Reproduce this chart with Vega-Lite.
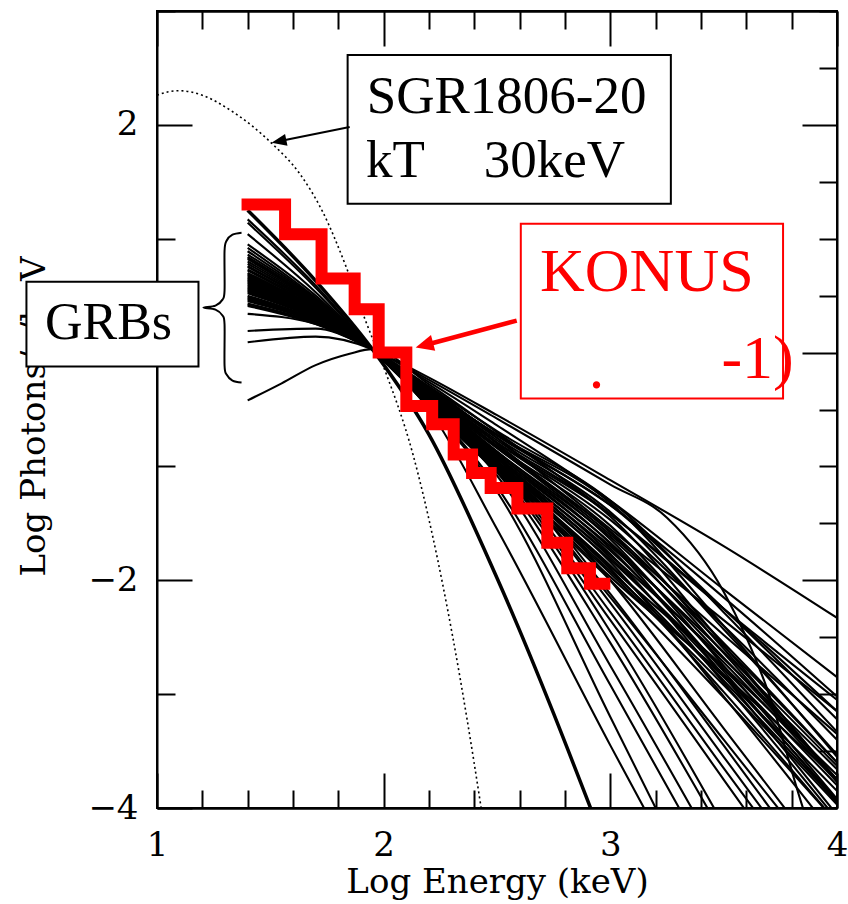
{
"$schema": "https://vega.github.io/schema/vega-lite/v6.json",
"width": 680, "height": 797,
"autosize": "none",
"padding": {"left": 157, "top": 11, "right": 11, "bottom": 96},
"background": "white",
"config": {"view": {"stroke": "black", "strokeWidth": 2}},
"datasets": {
"grb": [
{"c":"A1","x":1.4,"y":0.34},{"c":"A1","x":1.7,"y":0.25},{"c":"A1","x":1.95,"y":0.03},{"c":"A1","x":2.2,"y":-0.22},{"c":"A1","x":2.5,"y":-0.55},{"c":"A1","x":3.0,"y":-1.12},{"c":"A1","x":3.5,"y":-1.70},{"c":"A1","x":4.0,"y":-2.33},
{"c":"A2","x":1.4,"y":0.19},{"c":"A2","x":1.7,"y":0.21},{"c":"A2","x":1.95,"y":0.03},{"c":"A2","x":2.2,"y":-0.24},{"c":"A2","x":2.5,"y":-0.58},{"c":"A2","x":3.0,"y":-1.16},{"c":"A2","x":3.25,"y":-1.45},{"c":"A2","x":3.5,"y":-2.10},{"c":"A2","x":3.7,"y":-3.0},{"c":"A2","x":3.85,"y":-4.0},{"c":"A2","x":4.0,"y":-4.8},
{"c":"A3","x":1.4,"y":0.09},{"c":"A3","x":1.7,"y":0.14},{"c":"A3","x":1.95,"y":0.03},{"c":"A3","x":2.2,"y":-0.26},{"c":"A3","x":2.5,"y":-0.64},{"c":"A3","x":3.0,"y":-1.30},{"c":"A3","x":3.5,"y":-2.08},{"c":"A3","x":4.0,"y":-2.85},
{"c":"A4","x":1.4,"y":-0.42},{"c":"A4","x":1.55,"y":-0.27},{"c":"A4","x":1.7,"y":-0.11},{"c":"A4","x":1.85,"y":-0.01},{"c":"A4","x":1.95,"y":0.03},{"c":"A4","x":2.2,"y":-0.28},{"c":"A4","x":2.5,"y":-0.70},{"c":"A4","x":3.0,"y":-1.42},{"c":"A4","x":3.5,"y":-2.25},{"c":"A4","x":4.0,"y":-3.05},
{"c":"A5","x":1.4,"y":0.41},{"c":"A5","x":1.7,"y":0.25},{"c":"A5","x":1.95,"y":0.03},{"c":"A5","x":2.2,"y":-0.30},{"c":"A5","x":2.5,"y":-0.75},{"c":"A5","x":3.0,"y":-1.55},{"c":"A5","x":3.5,"y":-2.35},{"c":"A5","x":4.0,"y":-3.15},
{"c":"A6","x":1.4,"y":0.45},{"c":"A6","x":1.7,"y":0.27},{"c":"A6","x":1.95,"y":0.03},{"c":"A6","x":2.2,"y":-0.32},{"c":"A6","x":2.5,"y":-0.80},{"c":"A6","x":3.0,"y":-1.60},{"c":"A6","x":3.5,"y":-2.48},{"c":"A6","x":4.0,"y":-3.35},
{"c":"B1","x":1.4,"y":0.83},{"c":"B1","x":1.7,"y":0.44},{"c":"B1","x":1.95,"y":0.03},{"c":"B1","x":2.2,"y":-0.31},{"c":"B1","x":2.5,"y":-0.73},{"c":"B1","x":3.0,"y":-1.34},{"c":"B1","x":3.5,"y":-2.25},{"c":"B1","x":4.0,"y":-3.22},
{"c":"B2","x":1.4,"y":0.80},{"c":"B2","x":1.7,"y":0.43},{"c":"B2","x":1.95,"y":0.03},{"c":"B2","x":2.2,"y":-0.33},{"c":"B2","x":2.5,"y":-0.75},{"c":"B2","x":3.0,"y":-1.40},{"c":"B2","x":3.5,"y":-2.43},{"c":"B2","x":4.0,"y":-3.53},
{"c":"B3","x":1.4,"y":0.78},{"c":"B3","x":1.7,"y":0.42},{"c":"B3","x":1.95,"y":0.03},{"c":"B3","x":2.2,"y":-0.35},{"c":"B3","x":2.5,"y":-0.79},{"c":"B3","x":3.0,"y":-1.47},{"c":"B3","x":3.5,"y":-2.40},{"c":"B3","x":4.0,"y":-3.40},
{"c":"B4","x":1.4,"y":0.76},{"c":"B4","x":1.7,"y":0.41},{"c":"B4","x":1.95,"y":0.03},{"c":"B4","x":2.2,"y":-0.37},{"c":"B4","x":2.5,"y":-0.82},{"c":"B4","x":3.0,"y":-1.52},{"c":"B4","x":3.5,"y":-2.60},{"c":"B4","x":4.0,"y":-3.75},
{"c":"B5","x":1.4,"y":0.75},{"c":"B5","x":1.7,"y":0.41},{"c":"B5","x":1.95,"y":0.03},{"c":"B5","x":2.2,"y":-0.34},{"c":"B5","x":2.5,"y":-0.77},{"c":"B5","x":3.0,"y":-1.44},{"c":"B5","x":3.5,"y":-2.57},{"c":"B5","x":4.0,"y":-3.77},
{"c":"B6","x":1.4,"y":0.73},{"c":"B6","x":1.7,"y":0.40},{"c":"B6","x":1.95,"y":0.03},{"c":"B6","x":2.2,"y":-0.38},{"c":"B6","x":2.5,"y":-0.84},{"c":"B6","x":3.0,"y":-1.57},{"c":"B6","x":3.5,"y":-2.55},{"c":"B6","x":4.0,"y":-3.60},
{"c":"B7","x":1.4,"y":0.72},{"c":"B7","x":1.7,"y":0.39},{"c":"B7","x":1.95,"y":0.03},{"c":"B7","x":2.2,"y":-0.36},{"c":"B7","x":2.5,"y":-0.82},{"c":"B7","x":3.0,"y":-1.58},{"c":"B7","x":3.5,"y":-2.64},{"c":"B7","x":4.0,"y":-3.76},
{"c":"B8","x":1.4,"y":0.70},{"c":"B8","x":1.7,"y":0.38},{"c":"B8","x":1.95,"y":0.03},{"c":"B8","x":2.2,"y":-0.39},{"c":"B8","x":2.5,"y":-0.87},{"c":"B8","x":3.0,"y":-1.62},{"c":"B8","x":3.5,"y":-2.58},{"c":"B8","x":4.0,"y":-3.60},
{"c":"B9","x":1.4,"y":0.69},{"c":"B9","x":1.7,"y":0.38},{"c":"B9","x":1.95,"y":0.03},{"c":"B9","x":2.2,"y":-0.35},{"c":"B9","x":2.5,"y":-0.83},{"c":"B9","x":3.0,"y":-1.64},{"c":"B9","x":3.5,"y":-2.75},{"c":"B9","x":4.0,"y":-3.92},
{"c":"B10","x":1.4,"y":0.68},{"c":"B10","x":1.7,"y":0.38},{"c":"B10","x":1.95,"y":0.03},{"c":"B10","x":2.2,"y":-0.40},{"c":"B10","x":2.5,"y":-0.89},{"c":"B10","x":3.0,"y":-1.67},{"c":"B10","x":3.5,"y":-2.68},{"c":"B10","x":4.0,"y":-3.75},
{"c":"B11","x":1.4,"y":0.66},{"c":"B11","x":1.7,"y":0.37},{"c":"B11","x":1.95,"y":0.03},{"c":"B11","x":2.2,"y":-0.38},{"c":"B11","x":2.5,"y":-0.87},{"c":"B11","x":3.0,"y":-1.68},{"c":"B11","x":3.5,"y":-2.84},{"c":"B11","x":4.0,"y":-4.06},
{"c":"B12","x":1.4,"y":0.65},{"c":"B12","x":1.7,"y":0.36},{"c":"B12","x":1.95,"y":0.03},{"c":"B12","x":2.2,"y":-0.41},{"c":"B12","x":2.5,"y":-0.91},{"c":"B12","x":3.0,"y":-1.70},{"c":"B12","x":3.5,"y":-2.63},{"c":"B12","x":4.0,"y":-3.63},
{"c":"B13","x":1.4,"y":0.64},{"c":"B13","x":1.7,"y":0.36},{"c":"B13","x":1.95,"y":0.03},{"c":"B13","x":2.2,"y":-0.39},{"c":"B13","x":2.5,"y":-0.89},{"c":"B13","x":3.0,"y":-1.72},{"c":"B13","x":3.5,"y":-2.80},{"c":"B13","x":4.0,"y":-3.95},
{"c":"B14","x":1.4,"y":0.62},{"c":"B14","x":1.7,"y":0.35},{"c":"B14","x":1.95,"y":0.03},{"c":"B14","x":2.2,"y":-0.42},{"c":"B14","x":2.5,"y":-0.93},{"c":"B14","x":3.0,"y":-1.74},{"c":"B14","x":3.5,"y":-2.72},{"c":"B14","x":4.0,"y":-3.77},
{"c":"B15","x":1.4,"y":0.61},{"c":"B15","x":1.7,"y":0.34},{"c":"B15","x":1.95,"y":0.03},{"c":"B15","x":2.2,"y":-0.40},{"c":"B15","x":2.5,"y":-0.92},{"c":"B15","x":3.0,"y":-1.77},{"c":"B15","x":3.5,"y":-2.90},{"c":"B15","x":4.0,"y":-4.10},
{"c":"B16","x":1.4,"y":0.60},{"c":"B16","x":1.7,"y":0.34},{"c":"B16","x":1.95,"y":0.03},{"c":"B16","x":2.2,"y":-0.43},{"c":"B16","x":2.5,"y":-0.95},{"c":"B16","x":3.0,"y":-1.78},{"c":"B16","x":3.5,"y":-2.69},{"c":"B16","x":4.0,"y":-3.66},
{"c":"B17","x":1.4,"y":0.58},{"c":"B17","x":1.7,"y":0.33},{"c":"B17","x":1.95,"y":0.03},{"c":"B17","x":2.2,"y":-0.41},{"c":"B17","x":2.5,"y":-0.93},{"c":"B17","x":3.0,"y":-1.80},{"c":"B17","x":3.5,"y":-2.83},{"c":"B17","x":4.0,"y":-3.93},
{"c":"B18","x":1.4,"y":0.57},{"c":"B18","x":1.7,"y":0.33},{"c":"B18","x":1.95,"y":0.03},{"c":"B18","x":2.2,"y":-0.44},{"c":"B18","x":2.5,"y":-0.97},{"c":"B18","x":3.0,"y":-1.82},{"c":"B18","x":3.5,"y":-2.78},{"c":"B18","x":4.0,"y":-3.80},
{"c":"B19","x":1.4,"y":0.56},{"c":"B19","x":1.7,"y":0.32},{"c":"B19","x":1.95,"y":0.03},{"c":"B19","x":2.2,"y":-0.42},{"c":"B19","x":2.5,"y":-0.96},{"c":"B19","x":3.0,"y":-1.84},{"c":"B19","x":3.5,"y":-3.02},{"c":"B19","x":4.0,"y":-4.27},
{"c":"B20","x":1.4,"y":0.54},{"c":"B20","x":1.7,"y":0.31},{"c":"B20","x":1.95,"y":0.03},{"c":"B20","x":2.2,"y":-0.45},{"c":"B20","x":2.5,"y":-0.99},{"c":"B20","x":3.0,"y":-1.87},{"c":"B20","x":3.5,"y":-2.88},{"c":"B20","x":4.0,"y":-3.95},
{"c":"B21","x":1.4,"y":0.53},{"c":"B21","x":1.7,"y":0.31},{"c":"B21","x":1.95,"y":0.03},{"c":"B21","x":2.2,"y":-0.43},{"c":"B21","x":2.5,"y":-0.97},{"c":"B21","x":3.0,"y":-1.88},{"c":"B21","x":3.5,"y":-2.76},{"c":"B21","x":4.0,"y":-3.71},
{"c":"B22","x":1.4,"y":0.52},{"c":"B22","x":1.7,"y":0.30},{"c":"B22","x":1.95,"y":0.03},{"c":"B22","x":2.2,"y":-0.46},{"c":"B22","x":2.5,"y":-1.01},{"c":"B22","x":3.0,"y":-1.90},{"c":"B22","x":3.5,"y":-2.98},{"c":"B22","x":4.0,"y":-4.13},
{"c":"B23","x":1.4,"y":0.50},{"c":"B23","x":1.7,"y":0.29},{"c":"B23","x":1.95,"y":0.03},{"c":"B23","x":2.2,"y":-0.44},{"c":"B23","x":2.5,"y":-0.99},{"c":"B23","x":3.0,"y":-1.92},{"c":"B23","x":3.5,"y":-2.85},{"c":"B23","x":4.0,"y":-3.85},
{"c":"B24","x":1.4,"y":0.49},{"c":"B24","x":1.7,"y":0.29},{"c":"B24","x":1.95,"y":0.03},{"c":"B24","x":2.2,"y":-0.47},{"c":"B24","x":2.5,"y":-1.03},{"c":"B24","x":3.0,"y":-1.94},{"c":"B24","x":3.5,"y":-2.92},{"c":"B24","x":4.0,"y":-3.97},
{"c":"B25","x":1.4,"y":0.48},{"c":"B25","x":1.7,"y":0.28},{"c":"B25","x":1.95,"y":0.03},{"c":"B25","x":2.2,"y":-0.45},{"c":"B25","x":2.5,"y":-1.01},{"c":"B25","x":3.0,"y":-1.97},{"c":"B25","x":3.5,"y":-2.83},{"c":"B25","x":4.0,"y":-3.75},
{"c":"B26","x":1.4,"y":0.46},{"c":"B26","x":1.7,"y":0.28},{"c":"B26","x":1.95,"y":0.03},{"c":"B26","x":2.2,"y":-0.48},{"c":"B26","x":2.5,"y":-1.05},{"c":"B26","x":3.0,"y":-2.00},{"c":"B26","x":3.5,"y":-3.03},{"c":"B26","x":4.0,"y":-4.13},
{"c":"B27","x":1.4,"y":0.86},{"c":"B27","x":1.7,"y":0.46},{"c":"B27","x":1.95,"y":0.03},{"c":"B27","x":2.2,"y":-0.32},{"c":"B27","x":2.5,"y":-0.72},{"c":"B27","x":3.0,"y":-1.32},{"c":"B27","x":3.5,"y":-2.40},{"c":"B27","x":4.0,"y":-3.55},
{"c":"B28","x":1.4,"y":0.89},{"c":"B28","x":1.7,"y":0.47},{"c":"B28","x":1.95,"y":0.03},{"c":"B28","x":2.2,"y":-0.30},{"c":"B28","x":2.5,"y":-0.69},{"c":"B28","x":3.0,"y":-1.30},{"c":"B28","x":3.5,"y":-2.28},{"c":"B28","x":4.0,"y":-3.33},
{"c":"B29","x":1.4,"y":0.43},{"c":"B29","x":1.7,"y":0.26},{"c":"B29","x":1.95,"y":0.03},{"c":"B29","x":2.2,"y":-0.37},{"c":"B29","x":2.5,"y":-0.79},{"c":"B29","x":3.0,"y":-1.42},{"c":"B29","x":3.5,"y":-2.25},{"c":"B29","x":4.0,"y":-3.15},
{"c":"B30","x":1.4,"y":0.42},{"c":"B30","x":1.7,"y":0.26},{"c":"B30","x":1.95,"y":0.03},{"c":"B30","x":2.2,"y":-0.33},{"c":"B30","x":2.5,"y":-0.72},{"c":"B30","x":3.0,"y":-1.34},{"c":"B30","x":3.5,"y":-2.15},{"c":"B30","x":4.0,"y":-3.02},
{"c":"C1","x":1.4,"y":1.25},{"c":"C1","x":1.7,"y":0.63},{"c":"C1","x":1.95,"y":0.03},{"c":"C1","x":2.2,"y":-0.72},{"c":"C1","x":2.5,"y":-1.98},{"c":"C1","x":3.0,"y":-4.45},
{"c":"C2","x":1.4,"y":1.17},{"c":"C2","x":1.7,"y":0.59},{"c":"C2","x":1.95,"y":0.03},{"c":"C2","x":2.2,"y":-0.50},{"c":"C2","x":2.5,"y":-1.55},{"c":"C2","x":3.0,"y":-3.45},{"c":"C2","x":3.5,"y":-5.3},
{"c":"C3","x":1.4,"y":1.14},{"c":"C3","x":1.7,"y":0.57},{"c":"C3","x":1.95,"y":0.03},{"c":"C3","x":2.2,"y":-0.48},{"c":"C3","x":2.5,"y":-1.22},{"c":"C3","x":3.0,"y":-3.20},{"c":"C3","x":3.5,"y":-5.2},
{"c":"C4","x":1.4,"y":1.04},{"c":"C4","x":1.7,"y":0.53},{"c":"C4","x":1.95,"y":0.03},{"c":"C4","x":2.2,"y":-0.46},{"c":"C4","x":2.5,"y":-1.18},{"c":"C4","x":3.0,"y":-2.92},{"c":"C4","x":3.5,"y":-4.7},
{"c":"C5","x":1.4,"y":0.95},{"c":"C5","x":1.7,"y":0.50},{"c":"C5","x":1.95,"y":0.03},{"c":"C5","x":2.2,"y":-0.45},{"c":"C5","x":2.5,"y":-1.08},{"c":"C5","x":3.0,"y":-2.75},{"c":"C5","x":3.5,"y":-4.5},
{"c":"C6","x":1.4,"y":0.92},{"c":"C6","x":1.7,"y":0.48},{"c":"C6","x":1.95,"y":0.03},{"c":"C6","x":2.2,"y":-0.44},{"c":"C6","x":2.5,"y":-1.05},{"c":"C6","x":3.0,"y":-2.55},{"c":"C6","x":3.5,"y":-4.25},
{"c":"C7","x":1.4,"y":0.84},{"c":"C7","x":1.7,"y":0.45},{"c":"C7","x":1.95,"y":0.03},{"c":"C7","x":2.2,"y":-0.43},{"c":"C7","x":2.5,"y":-1.02},{"c":"C7","x":3.0,"y":-2.45},{"c":"C7","x":3.5,"y":-4.15},
{"c":"C8","x":1.4,"y":0.82},{"c":"C8","x":1.7,"y":0.44},{"c":"C8","x":1.95,"y":0.03},{"c":"C8","x":2.2,"y":-0.44},{"c":"C8","x":2.5,"y":-1.00},{"c":"C8","x":3.0,"y":-2.35},{"c":"C8","x":3.5,"y":-3.75},{"c":"C8","x":4.0,"y":-5.15},
{"c":"C9","x":1.4,"y":0.63},{"c":"C9","x":1.7,"y":0.35},{"c":"C9","x":1.95,"y":0.03},{"c":"C9","x":2.2,"y":-0.42},{"c":"C9","x":2.5,"y":-0.98},{"c":"C9","x":3.0,"y":-2.28},{"c":"C9","x":3.5,"y":-3.65},{"c":"C9","x":4.0,"y":-5.0},
{"c":"C10","x":1.4,"y":0.55},{"c":"C10","x":1.7,"y":0.32},{"c":"C10","x":1.95,"y":0.03},{"c":"C10","x":2.2,"y":-0.40},{"c":"C10","x":2.5,"y":-0.95},{"c":"C10","x":3.0,"y":-2.20},{"c":"C10","x":3.5,"y":-3.55},{"c":"C10","x":4.0,"y":-4.9},
{"c":"C11","x":1.4,"y":0.47},{"c":"C11","x":1.7,"y":0.28},{"c":"C11","x":1.95,"y":0.03},{"c":"C11","x":2.2,"y":-0.38},{"c":"C11","x":2.5,"y":-0.92},{"c":"C11","x":3.0,"y":-2.12},{"c":"C11","x":3.5,"y":-3.45},{"c":"C11","x":4.0,"y":-4.8},
{"c":"C12","x":1.4,"y":0.67},{"c":"C12","x":1.7,"y":0.37},{"c":"C12","x":1.95,"y":0.03},{"c":"C12","x":2.2,"y":-0.41},{"c":"C12","x":2.5,"y":-0.96},{"c":"C12","x":3.0,"y":-2.15},{"c":"C12","x":3.5,"y":-3.40},{"c":"C12","x":4.0,"y":-4.65},
{"c":"C13","x":1.4,"y":0.59},{"c":"C13","x":1.7,"y":0.33},{"c":"C13","x":1.95,"y":0.03},{"c":"C13","x":2.2,"y":-0.39},{"c":"C13","x":2.5,"y":-0.90},{"c":"C13","x":3.0,"y":-2.00},{"c":"C13","x":3.5,"y":-3.30},{"c":"C13","x":4.0,"y":-4.60}
],
"sgr": [
{"x":1.0,"y":2.26},{"x":1.05,"y":2.29},{"x":1.1,"y":2.30},{"x":1.2,"y":2.26},{"x":1.33,"y":2.12},{"x":1.42,"y":1.99},{"x":1.505,"y":1.84},{"x":1.63,"y":1.57},{"x":1.73,"y":1.24},{"x":1.835,"y":0.75},{"x":1.92,"y":0.28},{"x":1.995,"y":-0.1},{"x":2.13,"y":-0.9},{"x":2.217,"y":-1.62},{"x":2.305,"y":-2.5},{"x":2.43,"y":-4.0},{"x":2.46,"y":-4.4}
],
"konus": [
{"x":1.373,"y":1.30},{"x":1.565,"y":1.04},{"x":1.726,"y":0.65},{"x":1.872,"y":0.38},{"x":1.978,"y":0.0},{"x":2.10,"y":-0.47},{"x":2.214,"y":-0.63},{"x":2.309,"y":-0.895},{"x":2.39,"y":-1.057},{"x":2.472,"y":-1.19},{"x":2.59,"y":-1.37},{"x":2.722,"y":-1.67},{"x":2.81,"y":-1.895},{"x":2.91,"y":-2.03},{"x":3.0,"y":-2.03}
],
"brace": [
{"k":1,"x":1.373,"y":1.053},{"k":2,"x":1.333,"y":1.035},{"k":3,"x":1.307,"y":0.982},{"k":4,"x":1.298,"y":0.895},{"k":5,"x":1.298,"y":0.544},{"k":6,"x":1.289,"y":0.465},{"k":7,"x":1.258,"y":0.412},{"k":8,"x":1.205,"y":0.395},{"k":9,"x":1.258,"y":0.377},{"k":10,"x":1.289,"y":0.325},{"k":11,"x":1.298,"y":0.246},{"k":12,"x":1.298,"y":-0.114},{"k":13,"x":1.307,"y":-0.193},{"k":14,"x":1.333,"y":-0.246},{"k":15,"x":1.373,"y":-0.263}
]
},
"encoding": {
"x": {"field": "x", "type": "quantitative", "scale": {"domain": [1, 4], "nice": false, "zero": false}, "axis": null},
"y": {"field": "y", "type": "quantitative", "scale": {"domain": [-4, 3], "nice": false, "zero": false}, "axis": null}
},
"layer": [
{
"data": {"name": "grb"},
"transform": [{"filter": "datum.c !== 'C1'"}],
"mark": {"type": "line", "interpolate": "monotone", "color": "black", "strokeWidth": 2.1, "clip": true},
"encoding": {
"x": {"field": "x", "type": "quantitative", "scale": {"domain": [1, 4], "nice": false, "zero": false},
"axis": {"orient": "bottom", "values": [1, 2, 3, 4], "format": "d", "tickSize": -35,
"tickWidth": 2, "tickColor": "black", "domainWidth": 2, "domainColor": "black", "grid": false,
"labelFont": "DejaVu Serif", "labelFontSize": 34, "labelColor": "black", "labelBaseline": "alphabetic", "labelPadding": 82, "labelFlush": false, "labelOverlap": false, "labelBound": false,
"title": "Log Energy (keV)", "titleFont": "DejaVu Serif", "titleFontSize": 34, "titleFontWeight": "normal", "titleColor": "black", "titleBaseline": "alphabetic", "titleY": 84, "titleX": 340, "titleAlign": "center"}},
"y": {"field": "y", "type": "quantitative", "scale": {"domain": [-4, 3], "nice": false, "zero": false},
"axis": {"orient": "left", "values": [-4,-3.5,-3,-2.5,-2,-1.5,-1,-0.5,0,0.5,1,1.5,2,2.5,3], "format": "d",
"labelExpr": "datum.value % 2 === 0 ? datum.label : ''",
"tickSize": {"condition": {"test": "datum.value % 2 === 0", "value": -35}, "value": -18},
"tickWidth": 2, "tickColor": "black", "domainWidth": 2, "domainColor": "black", "grid": false,
"labelFont": "DejaVu Serif", "labelFontSize": 34, "labelColor": "black", "labelBaseline": "middle", "labelPadding": 54, "labelFlush": false, "labelOverlap": false, "labelBound": false,
"title": "Log Photons/s/keV", "titleFont": "DejaVu Serif", "titleFontSize": 34, "titleFontWeight": "normal", "titleColor": "black", "titleBaseline": "alphabetic", "titleAlign": "center", "titleAngle": -90, "titleX": -113, "titleY": 405}},
"detail": {"field": "c", "type": "nominal"}
}
},
{
"data": {"name": "grb"},
"transform": [{"filter": "datum.c === 'C1'"}],
"mark": {"type": "line", "interpolate": "monotone", "color": "black", "strokeWidth": 3.5, "clip": true},
"encoding": {
"x": {"field": "x", "type": "quantitative", "scale": {"domain": [1, 4], "nice": false, "zero": false},
"axis": {"orient": "bottom", "values": [1.2,1.4,1.6,1.8,2.2,2.4,2.6,2.8,3.2,3.4,3.6,3.8], "labels": false, "title": null, "tickSize": -18,
"tickWidth": 2, "tickColor": "black", "domainWidth": 2, "domainColor": "black", "grid": false}},
"detail": {"field": "c", "type": "nominal"}
}
},
{
"data": {"name": "sgr"},
"mark": {"type": "line", "interpolate": "monotone", "color": "black", "strokeWidth": 1.6, "strokeDash": [2, 3], "clip": true},
"encoding": {
"x": {"field": "x", "type": "quantitative", "scale": {"domain": [1, 4], "nice": false, "zero": false},
"axis": {"orient": "top", "values": [1, 2, 3, 4], "labels": false, "title": null, "tickSize": -35,
"tickWidth": 2, "tickColor": "black", "domainWidth": 2, "domainColor": "black", "grid": false}},
"y": {"field": "y", "type": "quantitative", "scale": {"domain": [-4, 3], "nice": false, "zero": false},
"axis": {"orient": "right", "values": [-4,-3.5,-3,-2.5,-2,-1.5,-1,-0.5,0,0.5,1,1.5,2,2.5,3], "labels": false, "title": null,
"tickSize": {"condition": {"test": "datum.value % 2 === 0", "value": -35}, "value": -18},
"tickWidth": 2, "tickColor": "black", "domainWidth": 2, "domainColor": "black", "grid": false}}
}
},
{
"data": {"name": "konus"},
"mark": {"type": "line", "interpolate": "step-after", "color": "#ff0000", "strokeWidth": 12, "strokeCap": "butt", "strokeJoin": "miter"},
"encoding": {
"x": {"field": "x", "type": "quantitative", "scale": {"domain": [1, 4], "nice": false, "zero": false},
"axis": {"orient": "top", "values": [1.2,1.4,1.6,1.8,2.2,2.4,2.6,2.8,3.2,3.4,3.6,3.8], "labels": false, "title": null, "tickSize": -18,
"tickWidth": 2, "tickColor": "black", "domainWidth": 2, "domainColor": "black", "grid": false}}
}
},
{
"data": {"name": "brace"},
"mark": {"type": "line", "interpolate": "cardinal", "color": "black", "strokeWidth": 2},
"encoding": {"order": {"field": "k", "type": "quantitative"}}
},
{
"data": {"values": [{"x": 1.841, "x2": 3.267, "y": 1.307, "y2": 2.614}, {"x": 0.424, "x2": 1.183, "y": -0.123, "y2": 0.623}]},
"mark": {"type": "rect", "fill": "white", "stroke": "black", "strokeWidth": 2},
"encoding": {"x2": {"field": "x2"}, "y2": {"field": "y2"}}
},
{
"data": {"values": [{"x": 2.605, "x2": 3.762, "y": -0.404, "y2": 1.132}]},
"mark": {"type": "rect", "fill": "white", "stroke": "#ff0000", "strokeWidth": 2},
"encoding": {"x2": {"field": "x2"}, "y2": {"field": "y2"}}
},
{
"data": {"values": [{"x": 1.85, "y": 1.982, "x2": 1.5488, "y2": 1.860}]},
"mark": {"type": "rule", "color": "black", "strokeWidth": 2},
"encoding": {"x2": {"field": "x2"}, "y2": {"field": "y2"}}
},
{
"data": {"values": [{"x": 1.5055, "y": 1.842}]},
"mark": {"type": "point", "filled": true, "color": "black", "opacity": 1, "shape": "M0,0L1,-0.4L1,0.4Z", "size": 900, "angle": -11.6},
"encoding": {}
},
{
"data": {"values": [{"x": 2.587, "y": 0.281, "x2": 2.1925, "y2": 0.071}]},
"mark": {"type": "rule", "color": "#ff0000", "strokeWidth": 4.5},
"encoding": {"x2": {"field": "x2"}, "y2": {"field": "y2"}}
},
{
"data": {"values": [{"x": 2.1413, "y": 0.0439}]},
"mark": {"type": "point", "filled": true, "color": "#ff0000", "opacity": 1, "shape": "M0,0L1,-0.45L1,0.45Z", "size": 1296, "angle": -15},
"encoding": {}
},
{
"data": {"values": [{"x": 1.925, "y": 2.105, "label": "SGR1806-20"}, {"x": 1.922, "y": 1.544, "label": "kT"}, {"x": 2.441, "y": 1.544, "label": "30keV"}]},
"mark": {"type": "text", "font": "Liberation Serif", "fontSize": 53, "color": "black", "align": "left", "baseline": "alphabetic"},
"encoding": {"text": {"field": "label"}}
},
{
"data": {"values": [{"x": 0.5055, "y": 0.123, "label": "GRBs"}]},
"mark": {"type": "text", "font": "Liberation Serif", "fontSize": 52, "color": "black", "align": "left", "baseline": "alphabetic"},
"encoding": {"text": {"field": "label"}}
},
{
"data": {"values": [{"x": 2.69, "y": 0.544, "label": "KONUS"}, {"x": 2.905, "y": -0.307, "label": "."}, {"x": 3.49, "y": -0.219, "label": "-1)"}]},
"mark": {"type": "text", "font": "Liberation Serif", "fontSize": 62, "color": "#ff0000", "align": "left", "baseline": "alphabetic"},
"encoding": {"text": {"field": "label"}}
}
],
"resolve": {"axis": {"x": "independent", "y": "independent"}}
}
